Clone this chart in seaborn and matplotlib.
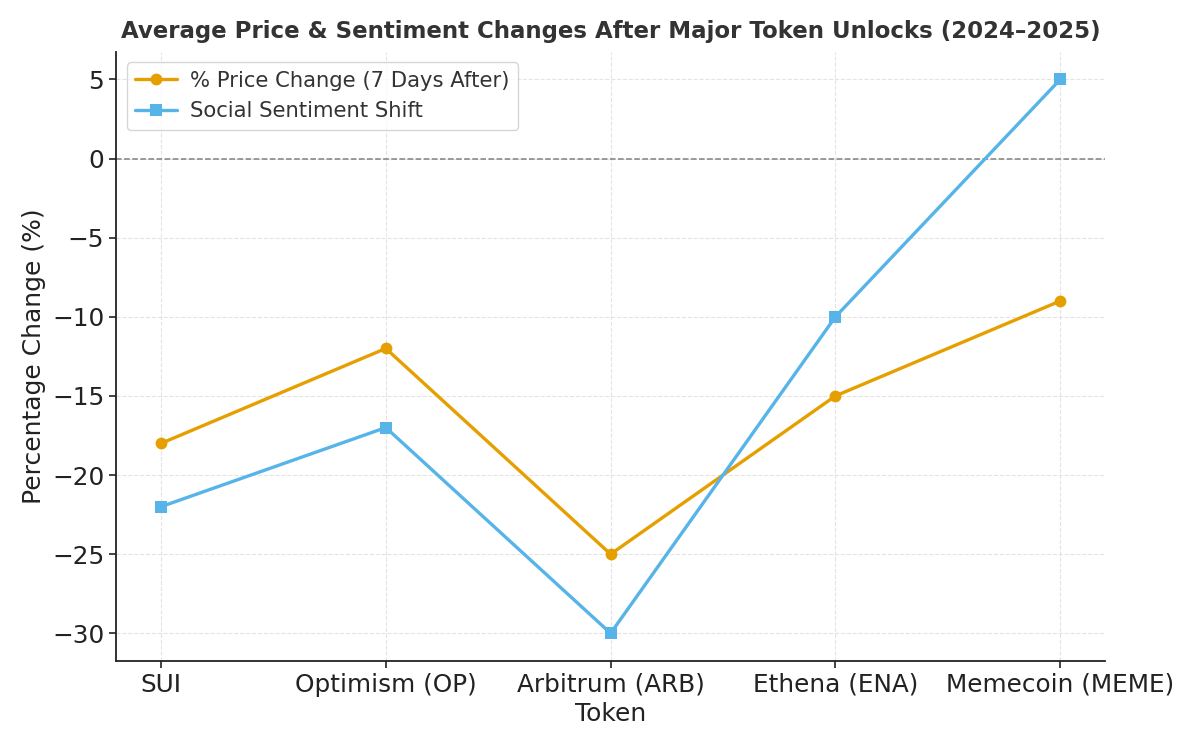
import matplotlib
matplotlib.use("Agg")
import matplotlib.pyplot as plt
import seaborn as sns
import pandas as pd

tokens = ["SUI", "Optimism (OP)", "Arbitrum (ARB)", "Ethena (ENA)", "Memecoin (MEME)"]
price_change = [-18, -12, -25, -15, -9]
sentiment_shift = [-22, -17, -30, -10, 5]
series_names = ["% Price Change (7 Days After)", "Social Sentiment Shift"]

df = pd.DataFrame({
    "Token": tokens * 2,
    "Value": price_change + sentiment_shift,
    "Series": [series_names[0]] * len(tokens) + [series_names[1]] * len(tokens),
})

sns.set_theme(style="ticks")
plt.rcParams['font.family'] = ['DejaVu Sans']

fig, ax = plt.subplots(figsize=(12, 7.5), dpi=100)
fig.subplots_adjust(left=0.0967, right=0.921, bottom=0.1187, top=0.931)

sns.lineplot(data=df, x="Token", y="Value", hue="Series", style="Series",
             markers={series_names[0]: "o", series_names[1]: "s"}, dashes=False,
             palette={series_names[0]: "#E69F00", series_names[1]: "#56B4E9"},
             linewidth=2.4, markersize=8.5, markeredgewidth=0, sort=False, ax=ax)

ax.axhline(0, color="gray", linestyle="--", linewidth=1.1, zorder=1)
ax.grid(True, linestyle="--", color="#dddddd", linewidth=0.8, alpha=0.8)
ax.set_axisbelow(True)
sns.despine(ax=ax)
for s in ["left", "bottom"]:
    ax.spines[s].set_linewidth(1.3)
    ax.spines[s].set_color("#222222")

ax.set_title("Average Price & Sentiment Changes After Major Token Unlocks (2024\u20132025)",
             fontsize=16.5, fontweight="bold", color="#333333", pad=10)
ax.set_xlabel("Token", fontsize=18, color="#222222")
ax.set_ylabel("Percentage Change (%)", fontsize=18, color="#222222")
ax.tick_params(axis="both", labelsize=17.8, colors="#222222", length=5, width=1.2)
ax.margins(x=0.05, y=0.05)

leg = ax.legend(loc="upper left", fontsize=15.2, frameon=True, fancybox=True,
                edgecolor="#cccccc", handlelength=2.0, handletextpad=0.6)
leg.get_frame().set_linewidth(1.0)
for t in leg.get_texts():
    t.set_color("#333333")

fig.savefig("out.png", dpi=100)
